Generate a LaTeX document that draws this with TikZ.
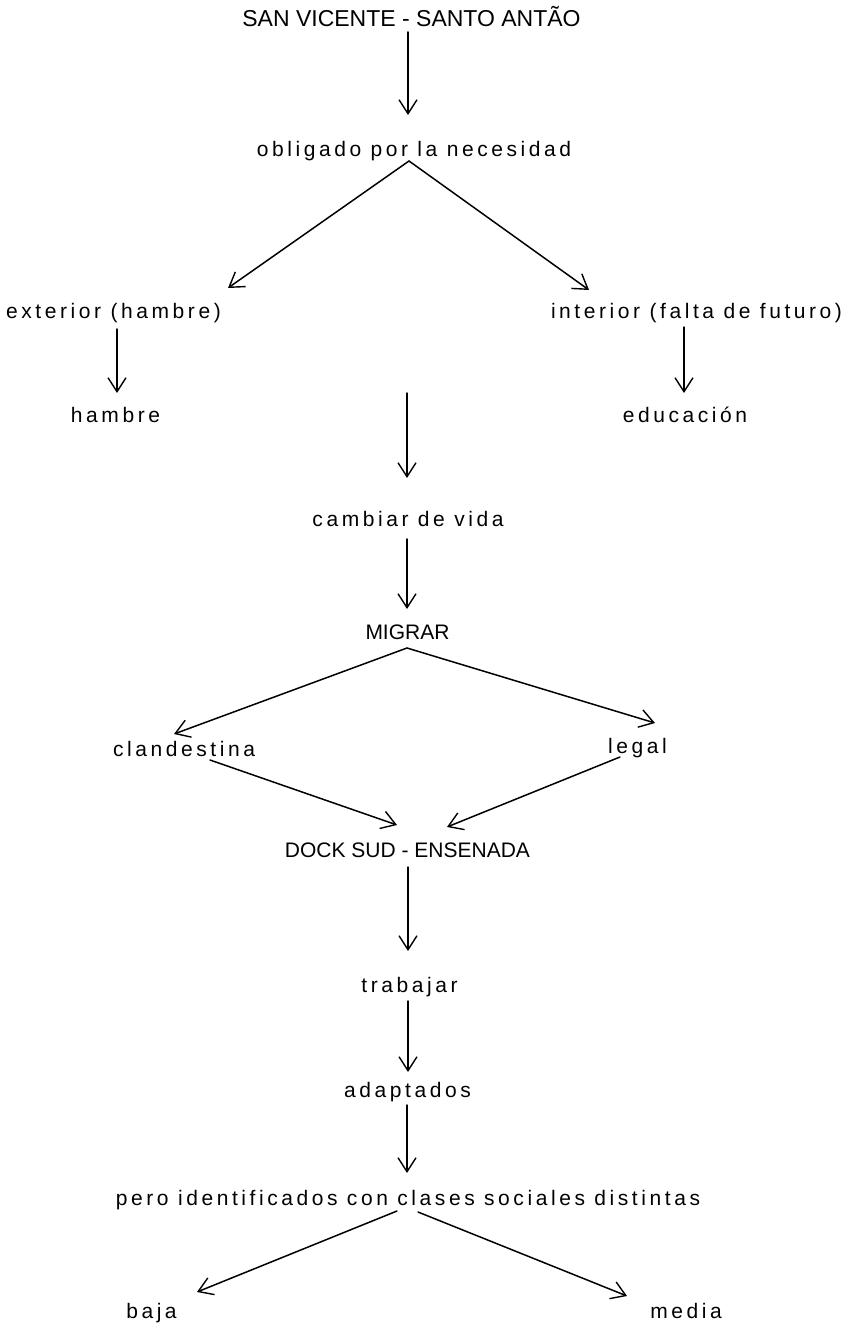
\documentclass[tikz,border=0pt]{standalone}
\usepackage{fontspec}
\setmainfont{Liberation Sans}
\newfontfamily\spacedfont[LetterSpace=17]{Liberation Sans}
\usetikzlibrary{arrows.meta}

\tikzset{
  lower/.style={font=\spacedfont\fontsize{21}{25}\selectfont, anchor=base, inner sep=0pt},
  upper/.style={font=\fontsize{21}{25}\selectfont, anchor=base, inner sep=0pt},
  heading/.style={font=\fontsize{23}{27}\selectfont, anchor=base, inner sep=0pt},
  arr/.style={line width=1.5pt, line cap=round, -{Straight Barb[length=14pt,width=18pt,line width=1.4pt]}}
}

\begin{document}
\begin{tikzpicture}[x=1pt,y=-1pt]
\useasboundingbox (0,0) rectangle (849,1324);

% labels, placed by centre and baseline
\node[heading] (t1)  at (411.5,27)   {SAN VICENTE - SANTO ANTÃO};
\node[lower]   (t2)  at (414,157)    {obligado por la necesidad};
\node[lower]   (t3)  at (113.5,318)  {exterior (hambre)};
\node[lower]   (t4)  at (696.5,318)  {interior (falta de futuro)};
\node[lower]   (t5)  at (115.5,422)  {hambre};
\node[lower]   (t6)  at (685,422)    {educación};
\node[lower]   (t7)  at (408,526)    {cambiar de vida};
\node[upper]   (t8)  at (407.5,639)  {MIGRAR};
\node[lower]   (t9)  at (184,756)    {clandestina};
\node[lower]   (t10) at (637.5,753)  {legal};
\node[upper]   (t11) at (407.5,857)  {DOCK SUD - ENSENADA};
\node[lower]   (t12) at (409.5,992)  {trabajar};
\node[lower]   (t13) at (407.5,1097) {adaptados};
\node[lower]   (t14) at (408,1205)   {pero identificados con clases sociales distintas};
\node[lower]   (t15) at (151.5,1318) {baja};
\node[lower]   (t16) at (686,1318)   {media};

% loose start of the central arrow
\coordinate (c0) at (407,393);

% connectors
\draw[arr] ([shift={(-3.5,5)}]t1.base)   -- ([shift={(-6,-42)}]t2.base);
\draw[arr] ([shift={(-5,4)}]t2.base)     -- ([shift={(114.5,-30)}]t3.base);
\draw[arr] ([shift={(-5,4)}]t2.base)     -- ([shift={(-107.5,-28)}]t4.base);
\draw[arr] ([shift={(3.5,11)}]t3.base)   -- ([shift={(1.5,-29)}]t5.base);
\draw[arr] ([shift={(-12.5,9)}]t4.base)  -- ([shift={(-1,-29)}]t6.base);
\draw[arr] (c0)                          -- ([shift={(-1,-48)}]t7.base);
\draw[arr] ([shift={(-1,13)}]t7.base)    -- ([shift={(-0.5,-30)}]t8.base);
\draw[arr] ([shift={(-0.5,9)}]t8.base)   -- ([shift={(-10,-22)}]t9.base);
\draw[arr] ([shift={(-0.5,9)}]t8.base)   -- ([shift={(17.5,-30)}]t10.base);
\draw[arr] ([shift={(26,4)}]t9.base)     -- ([shift={(-10.5,-32)}]t11.base);
\draw[arr] ([shift={(-17.5,4)}]t10.base) -- ([shift={(39.5,-30)}]t11.base);
\draw[arr] ([shift={(0.5,10)}]t11.base)  -- ([shift={(-1.5,-41)}]t12.base);
\draw[arr] ([shift={(-1.5,9)}]t12.base)  -- ([shift={(0.5,-25)}]t13.base);
\draw[arr] ([shift={(-0.5,8)}]t13.base)  -- ([shift={(-1,-32)}]t14.base);
\draw[arr] ([shift={(-11,6)}]t14.base)   -- ([shift={(45.5,-26)}]t15.base);
\draw[arr] ([shift={(10,7)}]t14.base)    -- ([shift={(-59,-22)}]t16.base);
\end{tikzpicture}
\end{document}
